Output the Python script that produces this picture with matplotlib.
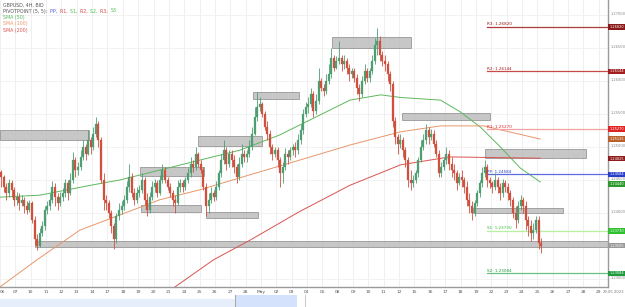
import matplotlib
matplotlib.use("Agg")
import matplotlib.pyplot as plt
from matplotlib.patches import Rectangle
import numpy as np

# ---------------- data (4H candles, price in pips: 2455 -> 1.2455) ----------------
day_labels = ["06", "07", "10", "11", "12", "13", "14", "17", "18", "19", "20", "21",
              "24", "25", "26", "27", "28", "May", "02", "03", "04", "05", "08", "09",
              "10", "11", "12", "15", "16", "17", "18", "19", "22", "23", "24", "25",
              "26", "27", "28", "29"]

closes = [
    [2455, 2440, 2430, 2445, 2435, 2420],
    [2425, 2415, 2420, 2410, 2405, 2415],
    [2390, 2360, 2350, 2370, 2380, 2405],
    [2410, 2420, 2440, 2425, 2415, 2425],
    [2430, 2445, 2430, 2450, 2480, 2465],
    [2470, 2485, 2500, 2490, 2510, 2500],
    [2520, 2535, 2510, 2450, 2420, 2415],
    [2400, 2380, 2360, 2395, 2405, 2410],
    [2420, 2440, 2455, 2430, 2420, 2430],
    [2435, 2450, 2420, 2405, 2425, 2440],
    [2445, 2430, 2450, 2465, 2450, 2440],
    [2430, 2420, 2415, 2440, 2445, 2440],
    [2450, 2460, 2475, 2470, 2490, 2475],
    [2465, 2440, 2410, 2420, 2430, 2425],
    [2440, 2460, 2480, 2495, 2475, 2490],
    [2480, 2470, 2455, 2475, 2490, 2485],
    [2490, 2500, 2520, 2545, 2560, 2565],
    [2550, 2530, 2520, 2500, 2490, 2495],
    [2480, 2460, 2470, 2490, 2485, 2495],
    [2500, 2495, 2510, 2525, 2550, 2560],
    [2565, 2580, 2555, 2570, 2600, 2590],
    [2585, 2600, 2610, 2635, 2620, 2630],
    [2635, 2625, 2630, 2620, 2610, 2615],
    [2605, 2590, 2580, 2600, 2615, 2605],
    [2615, 2630, 2655, 2660, 2640, 2630],
    [2625, 2610, 2595, 2540, 2515, 2505],
    [2510, 2495, 2480, 2450, 2445, 2450],
    [2460, 2480, 2500, 2510, 2525, 2515],
    [2520, 2505, 2490, 2460, 2470, 2480],
    [2490, 2475, 2465, 2460, 2445, 2455],
    [2450, 2440, 2420, 2410, 2400, 2415],
    [2430, 2445, 2460, 2470, 2450, 2445],
    [2440, 2450, 2440, 2430, 2445, 2440],
    [2430, 2420, 2400, 2390, 2410, 2420],
    [2410, 2390, 2380, 2370, 2375, 2390],
    [2355, 2350],
]
highs = [
    [2465, 2458, 2445, 2452, 2450, 2440],
    [2432, 2430, 2428, 2425, 2418, 2420],
    [2418, 2395, 2368, 2378, 2388, 2410],
    [2418, 2430, 2448, 2445, 2430, 2432],
    [2438, 2452, 2450, 2460, 2492, 2485],
    [2478, 2495, 2510, 2505, 2525, 2515],
    [2530, 2546, 2540, 2515, 2460, 2428],
    [2420, 2405, 2385, 2400, 2415, 2418],
    [2428, 2448, 2475, 2460, 2438, 2440],
    [2442, 2460, 2455, 2430, 2432, 2448],
    [2452, 2450, 2458, 2475, 2470, 2455],
    [2445, 2435, 2428, 2450, 2452, 2450],
    [2455, 2468, 2485, 2480, 2500, 2492],
    [2480, 2470, 2445, 2430, 2440, 2435],
    [2448, 2465, 2490, 2510, 2500, 2495],
    [2495, 2488, 2475, 2485, 2505, 2495],
    [2495, 2510, 2530, 2560, 2584, 2575],
    [2568, 2555, 2540, 2525, 2505, 2500],
    [2500, 2485, 2478, 2498, 2495, 2500],
    [2505, 2508, 2520, 2535, 2558, 2568],
    [2575, 2590, 2585, 2580, 2620, 2605],
    [2595, 2610, 2625, 2650, 2640, 2638],
    [2660, 2640, 2640, 2635, 2625, 2620],
    [2620, 2610, 2595, 2608, 2625, 2620],
    [2620, 2640, 2665, 2680, 2668, 2645],
    [2640, 2630, 2615, 2600, 2545, 2520],
    [2520, 2515, 2500, 2485, 2465, 2458],
    [2465, 2485, 2510, 2520, 2535, 2530],
    [2528, 2525, 2510, 2495, 2478, 2485],
    [2500, 2495, 2485, 2475, 2465, 2460],
    [2465, 2455, 2448, 2430, 2418, 2420],
    [2435, 2450, 2470, 2480, 2475, 2455],
    [2448, 2460, 2455, 2445, 2452, 2450],
    [2445, 2435, 2425, 2410, 2418, 2428],
    [2425, 2418, 2395, 2390, 2385, 2395],
    [2395, 2362],
]
lows = [
    [2440, 2432, 2420, 2425, 2425, 2410],
    [2412, 2405, 2410, 2400, 2398, 2402],
    [2385, 2352, 2344, 2348, 2365, 2375],
    [2398, 2405, 2415, 2410, 2405, 2410],
    [2418, 2425, 2420, 2428, 2445, 2455],
    [2458, 2465, 2480, 2480, 2488, 2490],
    [2495, 2515, 2500, 2445, 2405, 2405],
    [2392, 2370, 2345, 2355, 2390, 2398],
    [2405, 2415, 2432, 2425, 2412, 2415],
    [2425, 2430, 2412, 2395, 2400, 2420],
    [2432, 2425, 2428, 2445, 2445, 2435],
    [2425, 2410, 2400, 2412, 2432, 2432],
    [2435, 2445, 2455, 2462, 2465, 2470],
    [2460, 2435, 2395, 2400, 2415, 2418],
    [2420, 2435, 2455, 2475, 2465, 2470],
    [2470, 2460, 2445, 2450, 2470, 2478],
    [2478, 2485, 2495, 2518, 2540, 2555],
    [2545, 2525, 2510, 2490, 2480, 2485],
    [2470, 2440, 2445, 2465, 2475, 2480],
    [2488, 2485, 2490, 2505, 2520, 2545],
    [2552, 2560, 2545, 2550, 2565, 2585],
    [2578, 2580, 2595, 2605, 2615, 2618],
    [2625, 2615, 2618, 2610, 2600, 2605],
    [2598, 2580, 2570, 2575, 2595, 2598],
    [2598, 2610, 2625, 2640, 2630, 2622],
    [2615, 2600, 2585, 2530, 2505, 2490],
    [2498, 2485, 2470, 2440, 2435, 2440],
    [2445, 2455, 2478, 2495, 2505, 2505],
    [2510, 2500, 2485, 2455, 2455, 2465],
    [2475, 2465, 2455, 2450, 2435, 2442],
    [2440, 2430, 2410, 2400, 2390, 2395],
    [2410, 2425, 2440, 2455, 2440, 2438],
    [2430, 2435, 2430, 2420, 2425, 2432],
    [2420, 2410, 2392, 2378, 2385, 2405],
    [2400, 2375, 2365, 2358, 2360, 2370],
    [2345, 2340],
]
first_open = 2462

# moving averages sampled at day positions (price)
sma50_days = [0, 2.6, 5.9, 7.8, 10.4, 13, 15.6, 18.2, 20.8, 22.8, 24.8, 26.1, 28.7, 30, 31.3, 32.6, 33.9, 35.2]
sma50_vals = [1.2424, 1.2427, 1.2442, 1.2450, 1.2465, 1.2480, 1.2495, 1.2518, 1.2548, 1.2571, 1.2579,
              1.2575, 1.2571, 1.2553, 1.2530, 1.2500, 1.2468, 1.2447]
sma100_days = [0, 2.4, 5.2, 7.8, 10.4, 13, 16.3, 19.5, 22.8, 26.1, 28.7, 31.5, 35.2]
sma100_vals = [1.2288, 1.2329, 1.2374, 1.2397, 1.2420, 1.2435, 1.2458, 1.2480, 1.2503, 1.2523, 1.2532,
               1.2532, 1.2512]
sma200_days = [11.4, 13.9, 16.3, 19.5, 22.8, 26.1, 29.3, 35.2]
sma200_vals = [1.2288, 1.2329, 1.2359, 1.2402, 1.2442, 1.2473, 1.2485, 1.2483]

# pivot points (weekly)
pivot_names = ["R3", "R2", "R1", "PP", "S1", "S2"]
pivot_vals = [1.26820, 1.26144, 1.25270, 1.24584, 1.23730, 1.23084]
pivot_colors = ["#b03a3a", "#c94848", "#f5a0a0", "#5b6ee0", "#b6f0a0", "#6cc07f"]
pivot_tag_colors = ["#8b1a1a", "#a01f1f", "#e02424", "#2a3fc9", "#2fbf2f", "#1f9a3c"]
pivot_start_day = 31.75

# support / resistance zones: (start_day, end_day, low, high)
zone_x0 = [0.0, 9.1, 9.2, 12.9, 16.5, 21.6, 26.2, 31.6, 13.4, 30.8, 2.3]
zone_x1 = [5.8, 13.3, 13.1, 17.1, 19.5, 26.8, 31.9, 38.2, 16.8, 36.7, 39.6]
zone_lo = [1.2511, 1.2456, 1.2401, 1.2502, 1.2572, 1.2650, 1.2541, 1.2483, 1.2393, 1.2400, 1.2348]
zone_hi = [1.2526, 1.2470, 1.2412, 1.2517, 1.2584, 1.2666, 1.2551, 1.2497, 1.2402, 1.2407, 1.2358]

y_ticks = [1.270, 1.265, 1.260, 1.255, 1.250, 1.245, 1.240, 1.235, 1.230]

ma_tags = [("1.25125", 1.25125, "#b8612c"), ("1.24825", 1.24825, "#8e1c1c"), ("1.24440", 1.24440, "#2e9a2e")]
last_price = 1.23505

# ---------------- figure ----------------
W, H = 625, 307
fig = plt.figure(figsize=(W / 100, H / 100), dpi=100)
fig.patch.set_facecolor("white")
ax = fig.add_axes([0, 20 / H, 608 / W, 287 / H])
ax.set_facecolor("white")

x_lo, x_hi = 0.0, 608 / 15.35
y_lo, y_hi = 1.22879, 1.27227
ax.set_xlim(x_lo, x_hi)
ax.set_ylim(y_lo, y_hi)
for s in ["top", "left"]:
    ax.spines[s].set_visible(False)
ax.spines["right"].set_color("#9a9a9a")
ax.spines["right"].set_linewidth(1.0)
ax.spines["bottom"].set_color("#9a9a9a")
ax.spines["bottom"].set_linewidth(1.0)

# grid
for d in range(len(day_labels)):
    ax.axvline(d, color="#ececec", lw=0.6, zorder=0)
for yt in y_ticks:
    ax.axhline(yt, color="#f0f0f0", lw=0.6, zorder=0)

# zones
for x0, x1, lo, hi in zip(zone_x0, zone_x1, zone_lo, zone_hi):
    ax.add_patch(Rectangle((x0, lo), x1 - x0, hi - lo, facecolor="#bdbdbd", edgecolor="#8a8a8a",
                           lw=0.6, alpha=0.85, zorder=1))

# moving averages
ax.plot(sma50_days, sma50_vals, color="#5cb85c", lw=0.7, zorder=2)
ax.plot(sma100_days, sma100_vals, color="#e8976a", lw=0.7, zorder=2)
ax.plot(sma200_days, sma200_vals, color="#d9534f", lw=0.7, zorder=2)

# candles
prev = first_open
for d, (cs, hs, ls) in enumerate(zip(closes, highs, lows)):
    for j, (c, h, l) in enumerate(zip(cs, hs, ls)):
        x = d + (j + 0.5) / 6
        o = prev
        up = c >= o
        col = "#4f9d72" if up else "#d0503f"
        ax.vlines(x, 1 + l / 1e4, 1 + h / 1e4, color=col, lw=0.6, zorder=3)
        lo_b, hi_b = min(o, c), max(o, c)
        if hi_b - lo_b < 1:
            hi_b = lo_b + 1
        ax.add_patch(Rectangle((x - 0.065, 1 + lo_b / 1e4), 0.13, (hi_b - lo_b) / 1e4,
                               facecolor=col, edgecolor=col, lw=0.2, zorder=4))
        prev = c

# pivots
for name, v, c, tc in zip(pivot_names, pivot_vals, pivot_colors, pivot_tag_colors):
    ax.plot([pivot_start_day, x_hi], [v, v], color=c, lw=0.9, zorder=2)
    ax.text(pivot_start_day, v + 0.00008, f"{name}: {v:.5f}", fontsize=3.0, color=tc,
            ha="left", va="bottom", zorder=5)

ax.set_xticks([])
ax.set_yticks([])

# x labels
for d, lab in enumerate(day_labels):
    xp = (d - x_lo) / (x_hi - x_lo) * 608 / W
    fig.text(max(xp, 0.004), (H - 292) / H, lab, fontsize=3.2, color="#555555", ha="center", va="center")
fig.text(624 / W, (H - 292) / H, "29.05.2023", fontsize=2.7, color="#777777", ha="right", va="center")

# y labels
def ypix(p):
    return 20 / H + (p - y_lo) / (y_hi - y_lo) * 287 / H

for yt in y_ticks:
    fig.text(610.5 / W, ypix(yt) + 0.8 / H, f"{yt:.5f}", fontsize=2.6, color="#888888", ha="left", va="center")

# tags on right
def tag(p, text, color):
    yc = ypix(p)
    fig.patches.append(Rectangle((608 / W, yc - 2.8 / H), 17 / W, 5.6 / H, transform=fig.transFigure,
                                 facecolor=color, edgecolor="none", figure=fig, zorder=5))
    fig.text(609.5 / W, yc, text, fontsize=2.5, color="white", ha="left", va="center", zorder=6)

for v, tc in zip(pivot_vals, pivot_tag_colors):
    tag(v, f"{v:.5f}", tc)
for t, v, c in ma_tags:
    tag(v, t, c)
tag(last_price, f"{last_price:.5f}", "#9a9a9a")

# legend text top-left
fig.text(3 / W, 1 - 5 / H, "GBPUSD, 4H, BID", fontsize=3.4, color="#555555", ha="left", va="center")
parts = [("PIVOTPOINT (5, 5): ", "#555555"), ("PP, ", "#4b5fd8"), ("R1, ", "#d84b4b"), ("S1, ", "#4cbf4c"),
         ("R2, ", "#d84b4b"), ("S2, ", "#4cbf4c"), ("R3, ", "#d84b4b"), ("S3", "#4cbf4c")]
renderer = fig.canvas.get_renderer()
xcur = 3.0
for txt, col in parts:
    t = fig.text(xcur / W, 1 - 11 / H, txt, fontsize=3.4, color=col, ha="left", va="center")
    bb = t.get_window_extent(renderer=renderer)
    xcur += bb.width + 1.0
fig.text(3 / W, 1 - 17.5 / H, "SMA (50)", fontsize=3.4, color="#5cb85c", ha="left", va="center")
fig.text(3 / W, 1 - 24 / H, "SMA (100)", fontsize=3.4, color="#e8976a", ha="left", va="center")
fig.text(3 / W, 1 - 30.5 / H, "SMA (200)", fontsize=3.4, color="#d9534f", ha="left", va="center")

# navigator strip
nav = fig.add_axes([0, 0, 1, 14 / H])
nav.set_xlim(0, W)
nav.set_ylim(0, 14)
nav.axis("off")
nav.add_patch(Rectangle((0, 0), 297, 8, facecolor="#e6eefc", edgecolor="none"))
nav.add_patch(Rectangle((235, 0), 62, 12, facecolor="#d4e2fb", edgecolor="none"))
nav.plot([235, 235], [0, 12], color="#aaaaaa", lw=0.8)
nav.plot([305, 305], [0, 12], color="#cccccc", lw=0.8)

fig.savefig("out.png", dpi=100, facecolor="white")
